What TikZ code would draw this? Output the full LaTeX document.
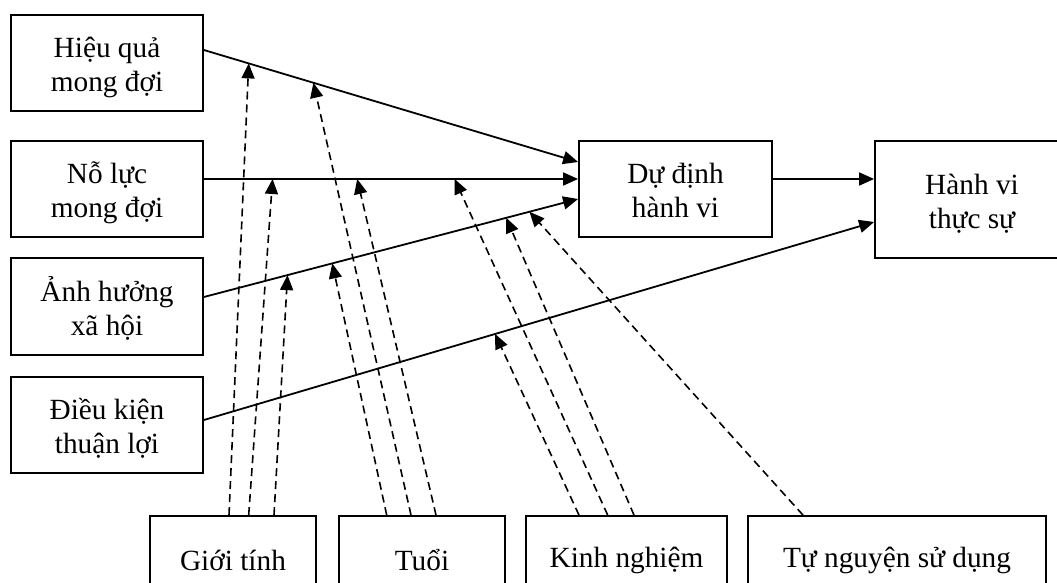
\documentclass[tikz,border=0pt]{standalone}
\usepackage{fontspec}
\setmainfont{Liberation Serif}
\usetikzlibrary{arrows.meta,calc}
\newcommand\twolines[2]{\rule{0pt}{1.1em}#1\\#2\rule[-0.3em]{0pt}{0pt}}
\begin{document}
\begin{tikzpicture}[x=1pt,y=-1pt,
  box/.style={draw, line width=1.8pt, inner sep=0pt, align=center, font=\fontsize{29.3}{34}\selectfont},
  leftbox/.style={box, minimum width=192pt, minimum height=96pt},
  botbox/.style={box, minimum height=88pt},
  solidarrow/.style={line width=1.8pt, -{Triangle[length=15pt,width=13pt]}},
  modarrow/.style={line width=1.6pt, dash pattern=on 8pt off 5pt, -{Triangle[length=15pt,width=13pt]}},
]
\useasboundingbox (0,0) rectangle (1057,583);
\clip (0,0) rectangle (1057,583);

% left boxes
\node[leftbox] (hq) at (107,63) {\twolines{Hiệu quả}{mong đợi}};
\node[leftbox] (nl) at (107,189) {\twolines{Nỗ lực}{mong đợi}};
\node[leftbox, minimum height=97pt] (ah) at (107,306.5) {\twolines{Ảnh hưởng}{xã hội}};
\node[leftbox] (dk) at (107,425) {\twolines{Điều kiện}{thuận lợi}};

% middle and right
\node[box, minimum width=193pt, minimum height=96pt] (dd) at (675.5,189) {\twolines{Dự định}{hành vi}};
\node[box, minimum width=194pt, minimum height=117.5pt] (hv) at (972,199.5) {\twolines{Hành vi}{thực sự}};

% bottom boxes
\node[botbox, minimum width=166pt] (gt) at (233,560) {Giới tính};
\node[botbox, minimum width=166pt] (tu) at (422,560) {Tuổi};
\node[botbox, minimum width=201pt] (kn) at (626.5,560) {Kinh nghiệm};
\node[botbox, minimum width=298pt] (tn) at (897,560) {Tự nguyện sử dụng};

% solid connectors
\draw[solidarrow] ($(hq.east)+(0,-13)$) --
   coordinate[pos=0.1197] (l1a) coordinate[pos=0.2926] (l1b)
   ($(dd.west)+(0,-27)$);
\draw[solidarrow] ($(nl.east)+(0,-10)$) --
   coordinate[pos=0.1835] (l2a) coordinate[pos=0.4096] (l2b) coordinate[pos=0.670] (l2c)
   ($(dd.west)+(0,-10)$);
\draw[solidarrow] ($(ah.east)+(0,-9.5)$) --
   coordinate[pos=0.2234] (l3a) coordinate[pos=0.343] (l3b) coordinate[pos=0.808] (l3c) coordinate[pos=0.870] (l3d)
   ($(dd.west)+(0,10)$);
\draw[solidarrow] ($(dk.east)+(0,-5)$) --
   coordinate[pos=0.4345] (l4a)
   ($(hv.west)+(0,22.5)$);
\draw[solidarrow] ($(dd.east)+(0,-10)$) -- ($(hv.west)+(0,-20.5)$);

% moderators
\draw[modarrow] ($(gt.north)+(-4,0)$) -- (l1a);
\draw[modarrow] ($(gt.north)+(15.7,0)$) -- (l2a);
\draw[modarrow] ($(gt.north)+(41,0)$) -- (l3a);

\draw[modarrow] ($(tu.north)+(-35.3,0)$) -- (l3b);
\draw[modarrow] ($(tu.north)+(-11,0)$) -- (l1b);
\draw[modarrow] ($(tu.north)+(14,0)$) -- (l2b);

\draw[modarrow] ($(kn.north)+(-47.5,0)$) -- (l4a);
\draw[modarrow] ($(kn.north)+(-18.8,0)$) -- (l2c);
\draw[modarrow] ($(kn.north)+(7.5,0)$) -- (l3c);

\draw[modarrow] ($(tn.north)+(-94,0)$) -- (l3d);
\end{tikzpicture}
\end{document}
